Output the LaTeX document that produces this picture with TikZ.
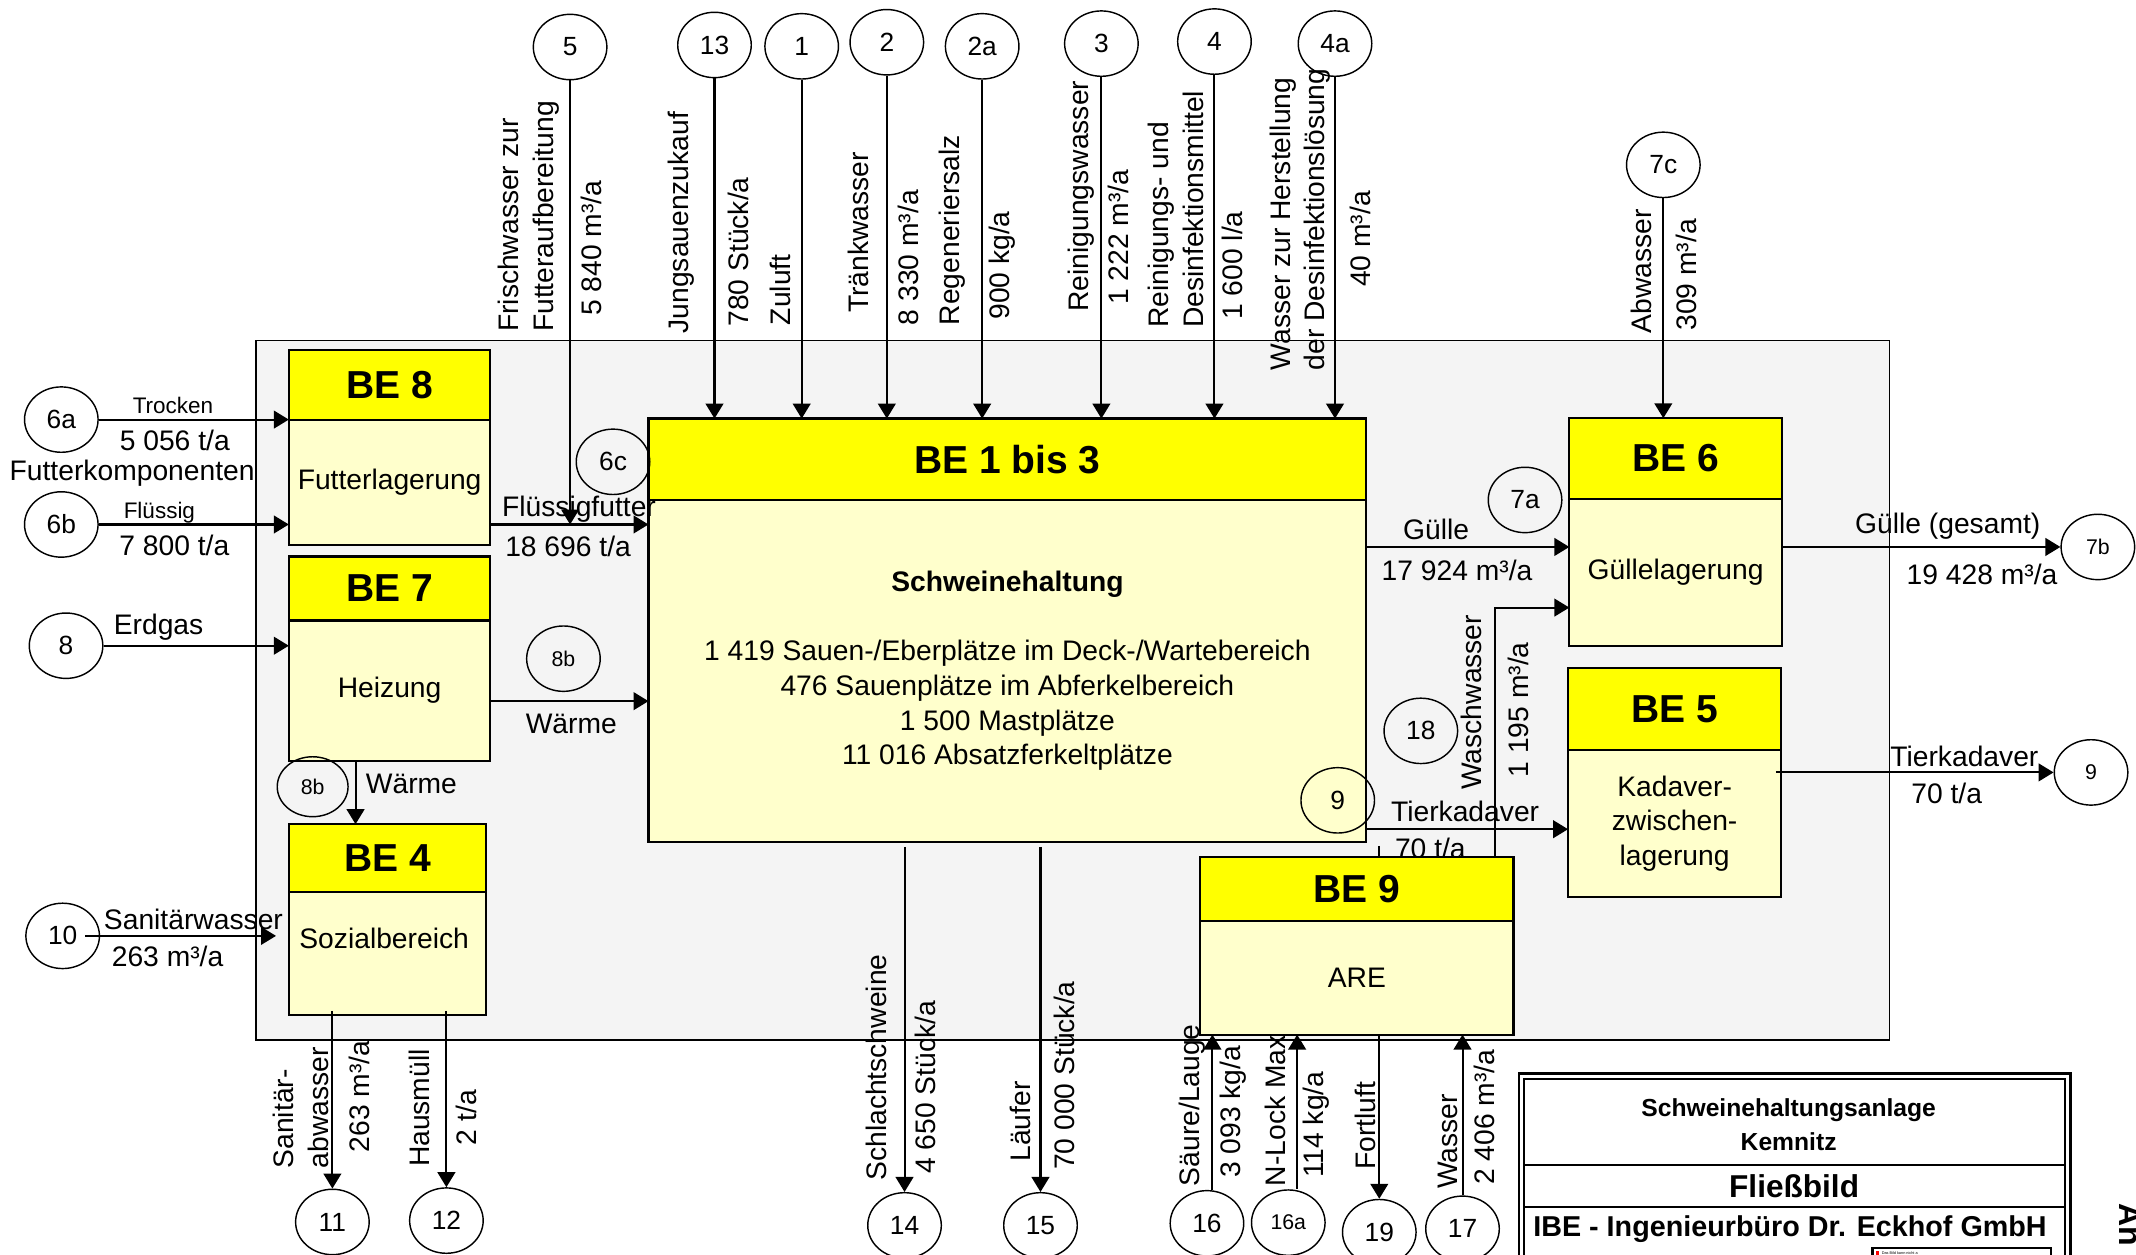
\documentclass[tikz,border=0pt]{standalone}
\usepackage{fontspec}
\setmainfont{Liberation Sans}
\usepackage{xcolor}
\usepackage{tikz}
\usetikzlibrary{shapes.geometric, arrows.meta, positioning, calc}

\definecolor{beyellow}{HTML}{FFFF00}
\definecolor{belight}{HTML}{FFFFCC}
\definecolor{framegray}{HTML}{F4F4F4}

\newcommand{\flowfont}{\fontsize{11.8}{14.5}\selectfont}
\newcommand{\flowsmall}{\fontsize{9.4}{11}\selectfont}
\newcommand{\headfont}{\fontsize{16.3}{19}\selectfont\bfseries}
\newcommand{\circfont}{\fontsize{11}{13}\selectfont}
\newcommand{\circsmall}{\fontsize{8.9}{10}\selectfont}

\begin{document}
\begin{tikzpicture}[x=0.02cm, y=-0.02cm,
    >={Triangle[length=0.22cm, width=0.26cm]},
    flowarrow/.style={->, line width=0.85pt},
    num/.style={ellipse, draw, line width=0.6pt, minimum width=1.08cm, minimum height=0.96cm, inner sep=0pt, font=\circfont},
    lab/.style={inner sep=0pt, font=\flowfont},
    vlab/.style={inner sep=0pt, font=\flowfont, rotate=90, anchor=west, align=left},
    behead/.style={draw, fill=beyellow, line width=0.9pt, inner sep=0pt, outer sep=0pt, font=\headfont},
    bebody/.style={draw, fill=belight, line width=0.9pt, inner sep=0pt, outer sep=0pt, font=\flowfont, align=center}]

    \useasboundingbox (0,0) rectangle (1568,921);
    \clip (0,0) rectangle (1568,921);

    % Plant frame
    \draw[fill=framegray, line width=0.6pt] (188,250) rectangle (1387,763.5);

    % Units
    \node[behead, minimum width=2.96cm, minimum height=1.02cm] (be8h) at (286,282.5) {BE 8};
    \node[bebody, minimum width=2.96cm, minimum height=1.84cm, below=0pt of be8h] (be8b) {Futterlagerung};

    \node[behead, minimum width=2.96cm, minimum height=0.94cm] (be7h) at (286,432) {BE 7};
    \node[bebody, minimum width=2.96cm, minimum height=2.06cm, below=0pt of be7h] (be7b) {Heizung};

    \node[behead, minimum width=2.9cm, minimum height=1.0cm] (be4h) at (284.5,630) {BE 4};
    \node[bebody, minimum width=2.9cm, minimum height=1.8cm, below=0pt of be4h] (be4b) {};
    \node[lab] (be4txt) at (282,689) {Sozialbereich};

    \node[behead, minimum width=10.54cm, minimum height=1.19cm] (be1h) at (739.5,337) {BE 1 bis 3};
    \node[bebody, minimum width=10.54cm, minimum height=5.03cm, below=0pt of be1h] (be1b)
        {\textbf{Schweinehaltung}\\[14.5pt]1 419 Sauen-/Eberplätze im Deck-/Wartebereich\\476 Sauenplätze im Abferkelbereich\\1 500 Mastplätze\\11 016 Absatzferkeltplätze};

    \node[behead, minimum width=3.12cm, minimum height=1.18cm] (be6h) at (1230,336.5) {BE 6};
    \node[bebody, minimum width=3.12cm, minimum height=2.16cm, below=0pt of be6h] (be6b) {Güllelagerung};

    \node[behead, minimum width=3.13cm, minimum height=1.2cm] (be5h) at (1229.3,520.5) {BE 5};
    \node[bebody, minimum width=3.13cm, minimum height=2.16cm, below=0pt of be5h] (be5b) {Kadaver-\\zwischen-\\lagerung};

    % partly hidden behind BE 9
    \node[lab] (lKadaverval) at (1050,622.6) {70 t/a};
    \coordinate (fortluft) at (1012.5,621);
    \draw[line width=0.85pt] (fortluft) -- ++(0,12);

    \node[behead, minimum width=4.6cm, minimum height=0.94cm] (be9h) at (996,652.5) {BE 9};
    \node[bebody, minimum width=4.6cm, minimum height=1.67cm, below=0pt of be9h] (be9b) {ARE};

    % Stream numbers
    \foreach \nm/\txt/\px/\py in {c5/5/418.5/34.5, c13/13/524.5/33, c1/1/588.5/34, c2/2/651/31,
        c2a/2a/721/34, c3/3/808.5/32, c4/4/891.5/30.5, c4a/4a/980/32, c7c/7c/1221/121,
        c6a/6a/45/308, c6b/6b/45/385, c8/8/48.5/474, c10/10/46/687, c6c/6c/450/339,
        c7a/7a/1119.5/367, c18/18/1043/536.5, c9a/9/982/587.5, c11/11/244/897, c12/12/327.7/896,
        c14/14/664/899.5, c15/15/763.8/899.5, c16/16/886/898, c19/19/1012.5/904.5, c17/17/1073.6/902}
        \node[num] (\nm) at (\px,\py) {\txt};
    \foreach \nm/\txt/\px/\py in {c8b/8b/413.6/483.5, c7b/7b/1540/401.5, c9b/9/1535/567, c16a/16a/945.7/897.5}
        \node[num, font=\circsmall] (\nm) at (\px,\py) {\txt};
    \node[num, font=\circsmall, minimum width=1.04cm, minimum height=0.88cm] (c8bb) at (229.5,577.5) {8b};

    % Inputs from above
    \foreach \nm in {c13,c1,c2,c2a,c3,c4,c4a}
        \draw[flowarrow] (\nm) -- (\nm |- be1h.north);
    \draw[flowarrow] (c5) -- (c5 |- c6b);
    \draw[flowarrow] (c7c) -- (c7c |- be6h.north);

    % Inputs from the left
    \draw[flowarrow] (c6a) -- (c6a -| be8b.west);
    \draw[flowarrow] (c6b) -- (c6b -| be8b.west);
    \draw[flowarrow] (c8) -- (c8 -| be7b.west);
    \draw[flowarrow] ($(c10.east)+(-11,0)$) -- ($(c10 -| be4b.west)+(-9.4,0)$);

    % Flows between units
    \draw[flowarrow] (be8b.east |- c6b) -- (be1b.west |- c6b);
    \draw[flowarrow] ($(be7b.east)+(0,7.7)$) -- ($(be7b.east -| be1b.west)+(0,7.7)$);
    \draw[flowarrow] ($(be7b.south)+(-25,0)$) -- ($(be7b.south |- be4h.north)+(-25,0)$);
    \draw[flowarrow] (be1b.east |- c7b) -- (be6b.west |- c7b);
    \draw[flowarrow] (be6b.east |- c7b) -- (c7b);
    \coordinate (wasch) at (1097.5,446);
    \draw[flowarrow] (be9h.north -| wasch) |- (be6b.west |- wasch);
    \draw[flowarrow] ($(be5b.west -| be1b.east)+(0,4.2)$) -- ($(be5b.west)+(0,4.2)$);
    \draw[flowarrow] ($(be5b.east |- c9b)+(-4,0)$) -- (c9b);

    % Outputs below
    \draw[flowarrow] ($(c11 |- be4b.south)+(0,-3)$) -- (c11);
    \draw[flowarrow] ($(c12 |- be4b.south)+(0,-3)$) -- (c12);
    \draw[flowarrow] ($(c14 |- be1b.south)+(0,3.4)$) -- (c14);
    \draw[flowarrow] ($(c15 |- be1b.south)+(0,3.4)$) -- (c15);
    \draw[flowarrow] (be9b.south -| c19) -- (c19);
    \draw[flowarrow] ($(c16.north)+(4,0)$) -- ($(c16 |- be9b.south)+(4,0)$);
    \draw[flowarrow] ($(c16a.north)+(6.5,0)$) -- ($(c16a |- be9b.south)+(6.5,0)$);
    \draw[flowarrow] (c17) -- (c17 |- be9b.south);

    % Horizontal labels
    \node[lab, font=\flowsmall] (lTrocken) at (127,297.5) {Trocken};
    \node[lab] (lTrockenval) at (128.3,323.5) {5 056 t/a};
    \node[lab] (lFutterkomp) at (97,347.4) {Futterkomponenten};
    \node[lab, font=\flowsmall] (lFluessig) at (117,376.5) {Flüssig};
    \node[lab] (lFluessigval) at (128,400.6) {7 800 t/a};
    \node[lab] (lErdgas) at (116.4,460.7) {Erdgas};
    \node[lab] (lSanitaer) at (142,674.6) {Sanitärwasser};
    \node[lab] (lSanitaerval) at (123,702) {263 m³/a};
    \node[lab] (lFlfutter) at (425,373.6) {Flüssigfutter};
    \node[lab] (lFlfutterval) at (417,401) {18 696 t/a};
    \node[lab] (lWaerme) at (419.4,531.4) {Wärme};
    \node[lab] (lWaermeb) at (302,575.6) {Wärme};
    \node[lab] (lGuelle) at (1054.2,388.7) {Gülle};
    \node[lab] (lGuelleval) at (1069.6,419) {17 924 m³/a};
    \node[lab] (lGuelleges) at (1429.8,385.9) {Gülle (gesamt)};
    \node[lab] (lGuellegesval) at (1455,421.7) {19 428 m³/a};
    \node[lab] (lKadaver) at (1075.5,595.8) {Tierkadaver};
    \node[lab] (lKadaverb) at (1442,555.4) {Tierkadaver};
    \node[lab] (lKadaverbval) at (1429,582.7) {70 t/a};

    % Vertical labels, top
    \node[vlab] (lFrisch) at (388,244) {Frischwasser zur\\Futteraufbereitung};
    \node[vlab] (lFrischval) at (434,232) {5 840 m³/a};
    \node[vlab] (lJung) at (500,245) {Jungsauenzukauf};
    \node[vlab] (lJungval) at (542,240) {780 Stück/a};
    \node[vlab] (lZuluft) at (573,239) {Zuluft};
    \node[vlab] (lTraenk) at (630,230) {Tränkwasser};
    \node[vlab] (lTraenkval) at (667,239) {8 330 m³/a};
    \node[vlab] (lSalz) at (699,239) {Regeneriersalz};
    \node[vlab] (lSalzval) at (736,235) {900 kg/a};
    \node[vlab] (lReinw) at (794,229) {Reinigungswasser};
    \node[vlab] (lReinwval) at (821,224) {1 222 m³/a};
    \node[vlab] (lDesi) at (863,241) {Reinigungs- und\\Desinfektionsmittel};
    \node[vlab] (lDesival) at (905,235) {1 600 l/a};
    \node[vlab] (lDesiw) at (954.5,272) {Wasser zur Herstellung\\der Desinfektionslösung};
    \node[vlab] (lDesiwval) at (998.5,211) {40 m³/a};
    \node[vlab] (lAbw) at (1205,245) {Abwasser};
    \node[vlab] (lAbwval) at (1238,243) {309 m³/a};
    \node[vlab] (lWasch) at (1080,580) {Waschwasser};
    \node[vlab] (lWaschval) at (1114.5,571) {1 195 m³/a};

    % Vertical labels, bottom
    \node[vlab] (lSanab) at (221,858) {Sanitär-\\abwasser};
    \node[vlab] (lSanabval) at (264,846) {263 m³/a};
    \node[vlab] (lHaus) at (308,857) {Hausmüll};
    \node[vlab] (lHausval) at (342.5,841) {2 t/a};
    \node[vlab] (lSchlacht) at (643,867) {Schlachtschweine};
    \node[vlab] (lSchlachtval) at (679,862) {4 650 Stück/a};
    \node[vlab] (lLaeufer) at (749,853) {Läufer};
    \node[vlab] (lLaeuferval) at (781.5,859) {70 000 Stück/a};
    \node[vlab] (lSaeure) at (875,871) {Säure/Lauge};
    \node[vlab] (lSaeureval) at (905,865) {3 093 kg/a};
    \node[vlab] (lNlock) at (936,871) {N-Lock Max};
    \node[vlab] (lNlockval) at (966,865) {114 kg/a};
    \node[vlab] (lFortluft) at (1002,859) {Fortluft};
    \node[vlab] (lWasser) at (1063,873) {Wasser};
    \node[vlab] (lWasserval) at (1090,870) {2 406 m³/a};

    % Title block
    \draw[line width=1pt] (1115,788) rectangle (1520,940);
    \draw[line width=0.9pt] (1119,792) rectangle (1516,940);
    \draw[line width=0.8pt] (1119,855) -- (1516,855);
    \draw[line width=0.8pt] (1119,886) -- (1516,886);
    \node[align=center, inner sep=0pt, font=\fontsize{10.3}{14.5}\selectfont\bfseries] (tProj) at (1313,825.5) {Schweinehaltungsanlage\\Kemnitz};
    \node[inner sep=0pt, font=\fontsize{13.2}{15}\selectfont\bfseries] (tFliess) at (1317,871) {Fließbild};
    \node[inner sep=0pt, font=\fontsize{12}{14}\selectfont\bfseries] (tIBE) at (1314,902) {IBE - Ingenieurbüro Dr. Eckhof GmbH};
    \draw[line width=1pt, fill=white] (1374.5,916) rectangle (1505.5,940);
    \fill[red] (1377,918.5) rectangle (1379.5,921);
    \node[anchor=west, inner sep=0pt, font=\fontsize{1.6}{2}\selectfont] (tImg) at (1381,919.8) {Das Bild kann nicht a};
    \node[rotate=-90, anchor=base west, inner sep=0pt, font=\fontsize{13.4}{15}\selectfont\bfseries] (tAnl) at (1556,883) {An};

\end{tikzpicture}
\end{document}
